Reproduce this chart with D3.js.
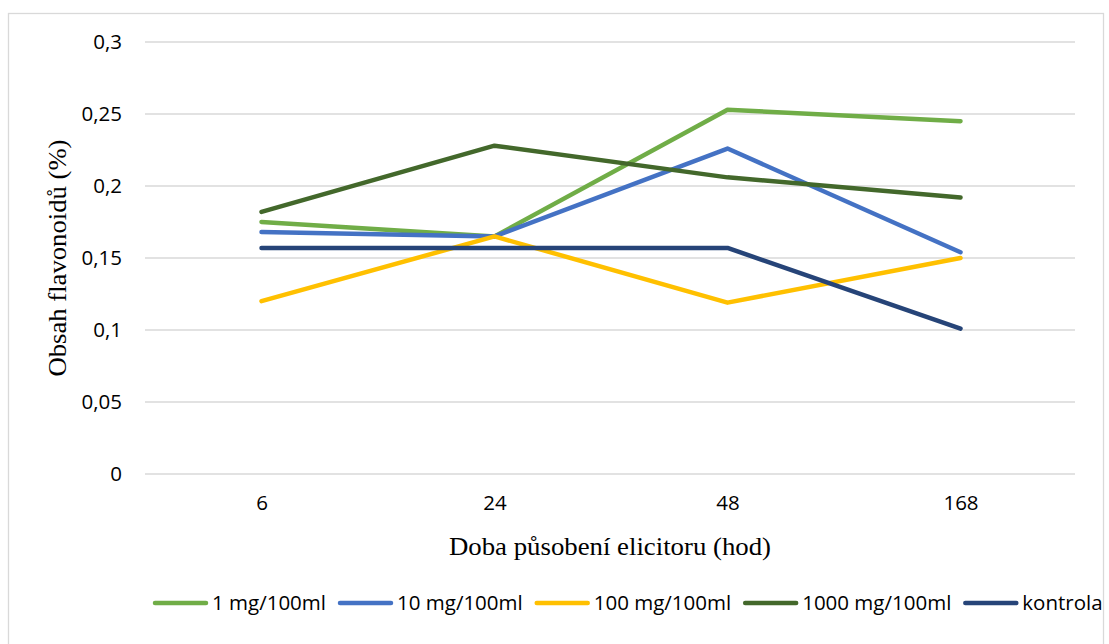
<!DOCTYPE html>
<html>
<head>
<meta charset="utf-8">
<script src="https://cdn.jsdelivr.net/npm/d3@7"></script>
<style>
  body { margin: 0; background: #fff; }
  svg { display: block; }
</style>
</head>
<body>
<svg id="chart" width="1109" height="644"></svg>
<script>
// hours of elicitor exposure
var categories = ["6", "24", "48", "168"];
var yTicks = [0, 0.05, 0.1, 0.15, 0.2, 0.25, 0.3];

var s1mg = [0.175, 0.165, 0.253, 0.245];
var s10mg = [0.168, 0.165, 0.226, 0.154];
var s100mg = [0.120, 0.165, 0.119, 0.150];
var s1000mg = [0.182, 0.228, 0.206, 0.192];
var kontrola = [0.157, 0.157, 0.157, 0.101];

var seriesNames = ["1 mg/100ml", "10 mg/100ml", "100 mg/100ml", "1000 mg/100ml", "kontrola"];
var seriesColors = ["#70AD47", "#4472C4", "#FFC000", "#43682B", "#264478"];
var seriesValues = [s1mg, s10mg, s100mg, s1000mg, kontrola];

var svg = d3.select("#chart");
var margin = {top: 42, right: 34, bottom: 170, left: 145};
var width = 1077 - margin.left;
var height = 474 - margin.top;

// chart frame
svg.append("rect")
  .attr("x", 8.5).attr("y", 13.5)
  .attr("width", 1095).attr("height", 640)
  .attr("fill", "#fff").attr("stroke", "#d9d9d9").attr("stroke-width", 1.3);

var g = svg.append("g").attr("transform", "translate(" + margin.left + "," + margin.top + ")");

var x = d3.scalePoint().domain(categories).range([0, width]).padding(0.5);
var y = d3.scaleLinear().domain([0, 0.3]).range([height, 0]);

var fmt = function(d) { return String(+d.toFixed(2)).replace(".", ","); };

// gridlines
g.selectAll(".grid").data(yTicks).enter().append("line")
  .attr("x1", 0).attr("x2", width - 2)
  .attr("y1", function(d) { return y(d); })
  .attr("y2", function(d) { return y(d); })
  .attr("stroke", "#d9d9d9").attr("stroke-width", 1.3);

var tickFont = "'Open Sans', sans-serif";
var fs = 20.5;

var yAxis = g.append("g").call(d3.axisLeft(y).tickValues(yTicks).tickFormat(fmt).tickSize(0).tickPadding(23));
yAxis.select(".domain").remove();
yAxis.selectAll("text").attr("font-family", tickFont).attr("font-size", fs).attr("fill", "#000");

var xAxis = g.append("g").attr("transform", "translate(0," + height + ")")
  .call(d3.axisBottom(x).tickSize(0).tickPadding(21));
xAxis.select(".domain").remove();
xAxis.selectAll("text").attr("font-family", tickFont).attr("font-size", fs).attr("fill", "#000");

var line = d3.line()
  .x(function(d, i) { return x(categories[i]); })
  .y(function(d) { return y(d); });

seriesValues.forEach(function(vals, i) {
  g.append("path")
    .datum(vals)
    .attr("d", line)
    .attr("fill", "none")
    .attr("stroke", seriesColors[i])
    .attr("stroke-width", 4.5)
    .attr("stroke-linecap", "round")
    .attr("stroke-linejoin", "round");
});

// axis titles
svg.append("text")
  .attr("x", 610).attr("y", 555)
  .attr("text-anchor", "middle")
  .attr("font-family", "'Liberation Serif', 'Times New Roman', serif")
  .attr("font-size", 25)
  .attr("textLength", 322).attr("lengthAdjust", "spacingAndGlyphs")
  .text("Doba působení elicitoru (hod)");

svg.append("text")
  .attr("transform", "translate(66,258) rotate(-90)")
  .attr("text-anchor", "middle")
  .attr("font-family", "'Liberation Serif', 'Times New Roman', serif")
  .attr("font-size", 25)
  .attr("textLength", 237).attr("lengthAdjust", "spacingAndGlyphs")
  .text("Obsah flavonoidů (%)");

// legend
var legend = svg.append("g").attr("transform", "translate(153,603)");
var lx = 0;
seriesNames.forEach(function(name, i) {
  var item = legend.append("g").attr("transform", "translate(" + lx + ",0)");
  item.append("line")
    .attr("x1", 2).attr("x2", 53)
    .attr("stroke", seriesColors[i]).attr("stroke-width", 4.5)
    .attr("stroke-linecap", "round");
  var t = item.append("text")
    .attr("x", 59).attr("dy", "0.35em")
    .attr("font-family", tickFont).attr("font-size", fs).attr("fill", "#000")
    .text(name);
  lx += 59 + t.node().getComputedTextLength() + 12;
});
</script>
</body>
</html>
